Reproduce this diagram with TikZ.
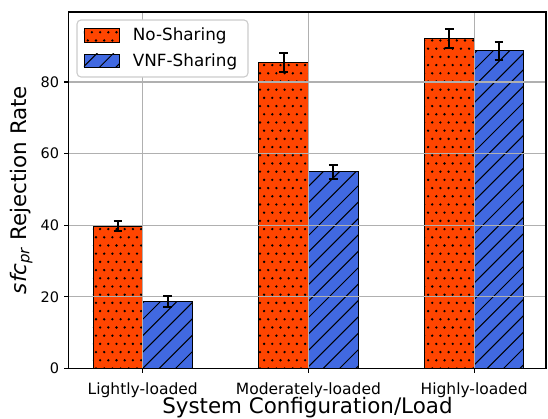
\documentclass[tikz,border=0pt]{standalone}
\usepackage{fontspec}
\setmainfont{DejaVu Sans}
\usepackage{xcolor}
\usepackage{tikz}
\usetikzlibrary{positioning}

\definecolor{nsorange}{HTML}{FF4500}
\definecolor{vsblue}{HTML}{4169E1}
\definecolor{gridgray}{HTML}{B0B0B0}
\definecolor{legframe}{HTML}{CCCCCC}

\tikzset{
  nsbar/.style={fill=nsorange},
  vsbar/.style={fill=vsblue},
  baredge/.style={draw=black, line width=0.9pt},
  gridline/.style={gridgray, line width=1.1pt},
  spine/.style={black, line width=1.1pt},
  tickmark/.style={black, line width=1.1pt},
  errbar/.style={black, line width=2pt},
  hatchline/.style={black, line width=1pt},
  yticklabel/.style={font=\fontsize{14.5}{17}\selectfont, inner sep=0pt, anchor=east},
  xticklabel/.style={font=\fontsize{15.5}{18}\selectfont, inner sep=0pt, anchor=base},
  axislabel/.style={font=\fontsize{21.4}{25}\selectfont, inner sep=0pt, anchor=base},
  legendtext/.style={font=\fontsize{16.8}{20}\selectfont, inner sep=0pt, anchor=base west},
  legendframe/.style={draw=legframe, line width=1.1pt, fill=white, rounded corners=4pt},
}

% dotted hatch, clipped to a box given in pt
\newcommand{\dotpattern}[4]{%
  \begin{scope}
    \clip (#1pt,#2pt) rectangle (#3pt,#4pt);
    \pgfmathtruncatemacro{\ra}{floor(#2/8.2)-1}
    \pgfmathtruncatemacro{\rb}{ceil(#4/8.2)+1}
    \pgfmathtruncatemacro{\ca}{floor(#1/8.2)-1}
    \pgfmathtruncatemacro{\cb}{ceil(#3/8.2)+1}
    \foreach \row in {\ra,...,\rb}
      \foreach \col in {\ca,...,\cb}
        \fill ({(\col+0.5*mod(abs(\row),2))*8.2pt+2.5pt},{\row*8.2pt}) circle[radius=1.3pt];
  \end{scope}}

% slash hatch, clipped to a box given in pt
\newcommand{\slashpattern}[4]{%
  \begin{scope}
    \clip (#1pt,#2pt) rectangle (#3pt,#4pt);
    \pgfmathtruncatemacro{\ka}{floor((#1-#4)/16.4)-1}
    \pgfmathtruncatemacro{\kb}{ceil((#3-#2)/16.4)+1}
    \pgfmathsetmacro{\hh}{#4-#2+20}
    \foreach \k in {\ka,...,\kb}
      \draw[hatchline] ({\k*16.4pt+#2pt-10pt},{#2pt-10pt}) -- ++(\hh pt,\hh pt);
  \end{scope}}

\begin{document}
\begin{tikzpicture}[x=165.7pt, y=3.581pt]
  \useasboundingbox (-142.7pt,-50.5pt) rectangle (405.3pt,368.5pt);

  % -- Bars --
  \foreach \i/\vn/\vv in {0/39.8/18.7, 1/85.4/54.9, 2/92.2/88.7}{
    \pgfmathsetmacro{\xa}{\i*165.7-49.7}
    \pgfmathsetmacro{\xb}{\i*165.7}
    \pgfmathsetmacro{\xc}{\i*165.7+49.7}
    \pgfmathsetmacro{\hn}{\vn*3.581}
    \pgfmathsetmacro{\hv}{\vv*3.581}
    \fill[nsbar] (\xa pt,0pt) rectangle (\xb pt,\hn pt);
    \dotpattern{\xa}{0}{\xb}{\hn}
    \draw[baredge] (\xa pt,0pt) rectangle (\xb pt,\hn pt);
    \fill[vsbar] (\xb pt,0pt) rectangle (\xc pt,\hv pt);
    \slashpattern{\xb}{0}{\xc}{\hv}
    \draw[baredge] (\xb pt,0pt) rectangle (\xc pt,\hv pt);
  }

  % -- Grid --
  \foreach \v in {0,20,40,60,80}
    \draw[gridline] (-0.446,\v) -- (2.434,\v);
  \foreach \i in {0,1,2}
    \draw[gridline] (\i,0) -- (\i,99.55);

  % -- Error bars --
  \foreach \i/\vn/\en/\vv/\ev in {0/39.8/1.3/18.7/1.6, 1/85.4/2.6/54.9/1.85, 2/92.2/2.65/88.7/2.55}{
    \coordinate (nsHi\i) at ({\i-0.15},{\vn+\en});
    \coordinate (nsLo\i) at ({\i-0.15},{\vn-\en});
    \coordinate (vsHi\i) at ({\i+0.15},{\vv+\ev});
    \coordinate (vsLo\i) at ({\i+0.15},{\vv-\ev});
    \draw[errbar] (nsLo\i) -- (nsHi\i);
    \draw[errbar] ([xshift=-4.3pt]nsHi\i) -- ([xshift=4.3pt]nsHi\i);
    \draw[errbar] ([xshift=-4.3pt]nsLo\i) -- ([xshift=4.3pt]nsLo\i);
    \draw[errbar] (vsLo\i) -- (vsHi\i);
    \draw[errbar] ([xshift=-4.3pt]vsHi\i) -- ([xshift=4.3pt]vsHi\i);
    \draw[errbar] ([xshift=-4.3pt]vsLo\i) -- ([xshift=4.3pt]vsLo\i);
  }

  % -- Axes --
  \draw[spine] (-0.446,0) rectangle (2.434,99.55);
  \foreach \v in {0,20,40,60,80}{
    \draw[tickmark] (-0.446,\v) -- ++(-4.9pt,0);
    \node[yticklabel] (yt\v) at ([xshift=-9.5pt]-0.446,\v) {\v};
  }
  \foreach \i/\name in {0/Lightly-loaded, 1/Moderately-loaded, 2/Highly-loaded}{
    \draw[tickmark] (\i,0) -- ++(0,-4.9pt);
    \node[xticklabel] (xt\i) at ([yshift=-25.8pt]\i,0) {\name};
  }
  \node[axislabel] (xlab) at ([yshift=-45.2pt]0.994,0) {System Configuration/Load};
  \node[axislabel, rotate=90] (ylab) at ([xshift=-116.5pt]0,49.85)
    {{\itshape sfc}\textsubscript{\itshape pr} Rejection Rate};

  % -- Legend --
  \draw[legendframe] (-65.7pt,291.5pt) rectangle (105.3pt,348.5pt);
  \fill[nsbar] (-58.7pt,326.5pt) rectangle (-23.7pt,340.5pt);
  \dotpattern{-58.7}{326.5}{-23.7}{340.5}
  \draw[baredge] (-58.7pt,326.5pt) rectangle (-23.7pt,340.5pt);
  \fill[vsbar] (-58.7pt,301.5pt) rectangle (-23.7pt,314.5pt);
  \slashpattern{-58.7}{301.5}{-23.7}{314.5}
  \draw[baredge] (-58.7pt,301.5pt) rectangle (-23.7pt,314.5pt);
  \node[legendtext] (legns) at (-10pt,327.8pt) {No-Sharing};
  \node[legendtext] (legvs) at (-10pt,301.8pt) {VNF-Sharing};
\end{tikzpicture}
\end{document}
